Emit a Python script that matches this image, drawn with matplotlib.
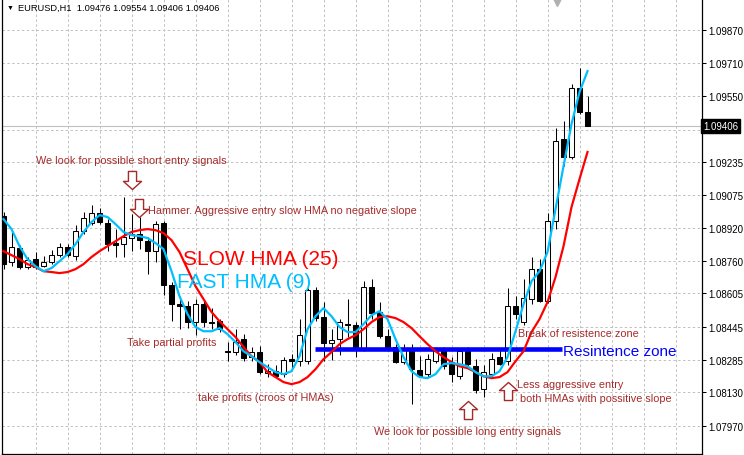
import numpy as np
import matplotlib.pyplot as plt
import matplotlib.transforms as mtransforms
from matplotlib.path import Path

plt.rcParams['font.family'] = ['Liberation Sans', 'DejaVu Sans']

# EURUSD H1 candles
opens = [1.08975, 1.08755, 1.08822, 1.08731, 1.08769, 1.08735, 1.08755, 1.08788, 1.08827, 1.08783,
         1.08903, 1.08942, 1.08990, 1.08942, 1.08846, 1.08841, 1.08870, 1.08889, 1.08855, 1.08807,
         1.08942, 1.08644, 1.08553, 1.08543, 1.08467, 1.08553, 1.08467, 1.08471, 1.08327, 1.08323,
         1.08385, 1.08299, 1.08323, 1.08222, 1.08231, 1.08217, 1.08289, 1.08279, 1.08279, 1.08620,
         1.08491, 1.08366, 1.08385, 1.08457, 1.08452, 1.08337, 1.08635, 1.08515, 1.08399, 1.08347,
         1.08275, 1.08342, 1.08236, 1.08217, 1.08279, 1.08327, 1.08275, 1.08207, 1.08327, 1.08255,
         1.08145, 1.08217, 1.08299, 1.08279, 1.08543, 1.08467, 1.08577, 1.08721, 1.08567, 1.08951,
         1.09345, 1.09259, 1.09590, 1.09476]
highs = [1.08995, 1.08903, 1.08836, 1.08779, 1.08803, 1.08783, 1.08812, 1.08846, 1.08841, 1.08932,
         1.08995, 1.09028, 1.09014, 1.08961, 1.08913, 1.09067, 1.08985, 1.08971, 1.08875, 1.08951,
         1.08951, 1.08659, 1.08582, 1.08567, 1.08577, 1.08572, 1.08534, 1.08481, 1.08371, 1.08433,
         1.08409, 1.08347, 1.08351, 1.08265, 1.08260, 1.08299, 1.08313, 1.08481, 1.08630, 1.08635,
         1.08563, 1.08433, 1.08481, 1.08577, 1.08467, 1.08663, 1.08673, 1.08563, 1.08433, 1.08361,
         1.08361, 1.08361, 1.08303, 1.08313, 1.08347, 1.08347, 1.08299, 1.08337, 1.08347, 1.08289,
         1.08260, 1.08318, 1.08337, 1.08630, 1.08591, 1.08673, 1.08779, 1.08769, 1.08990, 1.09398,
         1.09431, 1.09609, 1.09686, 1.09554]
lows = [1.08721, 1.08735, 1.08721, 1.08721, 1.08721, 1.08731, 1.08745, 1.08779, 1.08779, 1.08764,
        1.08889, 1.08932, 1.08937, 1.08807, 1.08779, 1.08779, 1.08807, 1.08817, 1.08697, 1.08755,
        1.08596, 1.08471, 1.08433, 1.08438, 1.08404, 1.08443, 1.08433, 1.08419, 1.08279, 1.08308,
        1.08279, 1.08279, 1.08217, 1.08203, 1.08203, 1.08203, 1.08241, 1.08255, 1.08265, 1.08471,
        1.08279, 1.08284, 1.08308, 1.08395, 1.08299, 1.08327, 1.08481, 1.08390, 1.08327, 1.08270,
        1.08265, 1.08073, 1.08203, 1.08203, 1.08270, 1.08241, 1.08179, 1.08193, 1.08255, 1.08126,
        1.08107, 1.08203, 1.08260, 1.08260, 1.08481, 1.08452, 1.08553, 1.08563, 1.08558, 1.08913,
        1.09215, 1.09249, 1.09465, 1.09406]
closes = [1.08745, 1.08827, 1.08731, 1.08764, 1.08731, 1.08755, 1.08788, 1.08827, 1.08788, 1.08903,
          1.08966, 1.08990, 1.08947, 1.08841, 1.08836, 1.08875, 1.08889, 1.08860, 1.08807, 1.08937,
          1.08644, 1.08553, 1.08543, 1.08467, 1.08553, 1.08467, 1.08462, 1.08433, 1.08323, 1.08371,
          1.08294, 1.08323, 1.08227, 1.08231, 1.08207, 1.08284, 1.08279, 1.08404, 1.08620, 1.08486,
          1.08366, 1.08380, 1.08467, 1.08455, 1.08337, 1.08635, 1.08510, 1.08399, 1.08337, 1.08275,
          1.08342, 1.08241, 1.08207, 1.08289, 1.08327, 1.08255, 1.08217, 1.08327, 1.08265, 1.08140,
          1.08227, 1.08289, 1.08265, 1.08543, 1.08505, 1.08582, 1.08721, 1.08567, 1.08951, 1.09335,
          1.09259, 1.09590, 1.09476, 1.09406]

# fast HMA(9) and slow HMA(25)
hma_fast = [1.08961, 1.08913, 1.08831, 1.08769, 1.08735, 1.08711, 1.08726, 1.08759, 1.08793, 1.08841,
            1.08899, 1.08947, 1.08980, 1.08971, 1.08937, 1.08899, 1.08884, 1.08879, 1.08870, 1.08846,
            1.08817, 1.08711, 1.08591, 1.08505, 1.08443, 1.08423, 1.08423, 1.08438, 1.08409, 1.08371,
            1.08327, 1.08303, 1.08275, 1.08251, 1.08227, 1.08217, 1.08231, 1.08303, 1.08433, 1.08495,
            1.08534, 1.08495, 1.08443, 1.08419, 1.08419, 1.08457, 1.08500, 1.08519, 1.08481, 1.08385,
            1.08299, 1.08231, 1.08203, 1.08198, 1.08217, 1.08265, 1.08270, 1.08265, 1.08255, 1.08227,
            1.08207, 1.08207, 1.08231, 1.08299, 1.08423, 1.08553, 1.08663, 1.08711, 1.08803, 1.09009,
            1.09215, 1.09417, 1.09571, 1.09671]
hma_slow = [1.08807, 1.08788, 1.08769, 1.08745, 1.08731, 1.08711, 1.08707, 1.08702, 1.08707, 1.08721,
            1.08745, 1.08779, 1.08807, 1.08831, 1.08855, 1.08879, 1.08899, 1.08908, 1.08913, 1.08908,
            1.08894, 1.08860, 1.08803, 1.08721, 1.08639, 1.08577, 1.08515, 1.08471, 1.08433, 1.08395,
            1.08347, 1.08303, 1.08275, 1.08227, 1.08203, 1.08179, 1.08169, 1.08179, 1.08203, 1.08241,
            1.08289, 1.08323, 1.08361, 1.08385, 1.08404, 1.08433, 1.08467, 1.08491, 1.08495, 1.08486,
            1.08467, 1.08438, 1.08399, 1.08361, 1.08327, 1.08299, 1.08275, 1.08255, 1.08246, 1.08227,
            1.08207, 1.08198, 1.08203, 1.08227, 1.08279, 1.08327, 1.08419, 1.08481, 1.08563, 1.08683,
            1.08831, 1.09019, 1.09153, 1.09283]

price_ticks = [1.09870, 1.09710, 1.09550, 1.09390, 1.09235, 1.09075, 1.08920,
               1.08760, 1.08605, 1.08445, 1.08285, 1.08130, 1.07970]
bid = 1.09406
resistance = 1.08340

opens = np.array(opens)
closes = np.array(closes)
x = np.arange(len(opens))

fig = plt.figure(figsize=(7.44, 4.56), dpi=100)
ax = fig.add_axes([2/744, 1/456, 700/744, 455/456])

# candles
ax.vlines(x, lows, highs, color='black', lw=0.75, zorder=2)
up = closes >= opens
ax.bar(x[up], (closes - opens)[up], bottom=opens[up], width=0.55,
       color='white', edgecolor='black', lw=0.75, zorder=3)
ax.bar(x[~up], (closes - opens)[~up], bottom=opens[~up], width=0.55,
       color='black', edgecolor='black', lw=0.75, zorder=3)

ax.hlines(resistance, 38.9, 69.8, color='#0000ff', lw=3.3, zorder=3.5)
ax.plot(x, hma_slow, color='#ff0000', lw=1.6, zorder=4)
ax.plot(x, hma_fast, color='#00bfff', lw=1.6, zorder=5)

# bid line
ax.axhline(bid, color='#c0c0c0', lw=0.8, zorder=1)

# hollow arrows
up_path = Path([(0, 1), (1, 0.1), (0.45, 0.1), (0.45, -1), (-0.45, -1), (-0.45, 0.1), (-1, 0.1), (0, 1)],
               closed=True)
down_path = Path([(0, -1), (1, -0.1), (0.45, -0.1), (0.45, 1), (-0.45, 1), (-0.45, -0.1), (-1, -0.1), (0, -1)],
                 closed=True)
brown = '#a52a2a'
ax.plot([16, 16.9], [1.09148, 1.09014], ls='none', marker=down_path, ms=13,
        mfc='white', mec=brown, mew=1, zorder=7)
ax.plot([58, 63], [1.08044, 1.08135], ls='none', marker=up_path, ms=13,
        mfc='white', mec=brown, mew=1, zorder=7)

# notes
small = dict(color=brown, fontsize=7.8, zorder=8)
ax.text(4.06, 1.09244, 'We look for possible short entry signals', va='center', **small)
ax.text(18.06, 1.09007, 'Hammer. Aggressive entry slow HMA no negative slope', va='center', **small)
ax.text(15.44, 1.08356, 'Take partial profits', va='baseline', **small)
ax.text(24.31, 1.08092, 'take profits (croos of HMAs)', va='baseline', **small)
ax.text(46.31, 1.07929, 'We look for possible long entry signals', va='baseline', **small)
ax.text(64.19, 1.08155, 'Less aggressive entry', va='baseline', **small)
ax.text(64.6, 1.08090, 'both HMAs with possitive slope', va='baseline', **small)
ax.text(64.31, 1.08402, 'Break of resistence zone', va='baseline', **small)
ax.text(22.4, 1.08745, 'SLOW HMA (25)', color='#ff0000', fontsize=15, va='baseline', zorder=8)
ax.text(21.7, 1.08635, 'FAST HMA (9)', color='#00bfff', fontsize=15, va='baseline', zorder=8)
ax.text(69.94, 1.08308, 'Resintence zone', color='#0000ff', fontsize=11, va='baseline', zorder=8)

# header
ax.text(0.006, 0.981, '▼', transform=ax.transAxes, fontsize=5, va='center')
ax.text(0.0229, 0.981, 'EURUSD,H1  1.09476 1.09554 1.09406 1.09406',
        transform=ax.transAxes, fontsize=6.7, va='center')
trans = mtransforms.blended_transform_factory(ax.transData, ax.transAxes)
ax.plot([69.2], [0.994], marker='v', ms=6, color='#b0b0b0', transform=trans, clip_on=False)

# axes look
ax.set_xlim(-0.19, 87.31)
ax.set_ylim(1.07834, 1.10017)
ax.set_xticks(np.arange(4, 88, 4))
ax.set_yticks(price_ticks)
# the 1.09390 label sits under the bid box
ax.set_yticklabels(['' if abs(p - bid) < 0.0003 else '%.5f' % p for p in price_ticks])
ax.yaxis.tick_right()
ax.tick_params(axis='y', labelsize=7, length=3, width=0.75, pad=1.5)
ax.tick_params(axis='x', bottom=False, labelbottom=False)
ax.grid(True, color='#c0c0c0', linestyle=(0, (2.5, 2.5)), lw=0.7)
ax.set_axisbelow(True)
ax.spines['top'].set_visible(False)
for s in ['left', 'right', 'bottom']:
    ax.spines[s].set_linewidth(0.9)

blend = mtransforms.blended_transform_factory(ax.transAxes, ax.transData)
ax.text(1.002, bid, '%.5f' % bid, transform=blend, color='white', fontsize=7,
        va='center', ha='left', zorder=10, clip_on=False,
        bbox=dict(boxstyle='square,pad=0.2', fc='black', ec='black'))

fig.savefig('out.png', dpi=100)
